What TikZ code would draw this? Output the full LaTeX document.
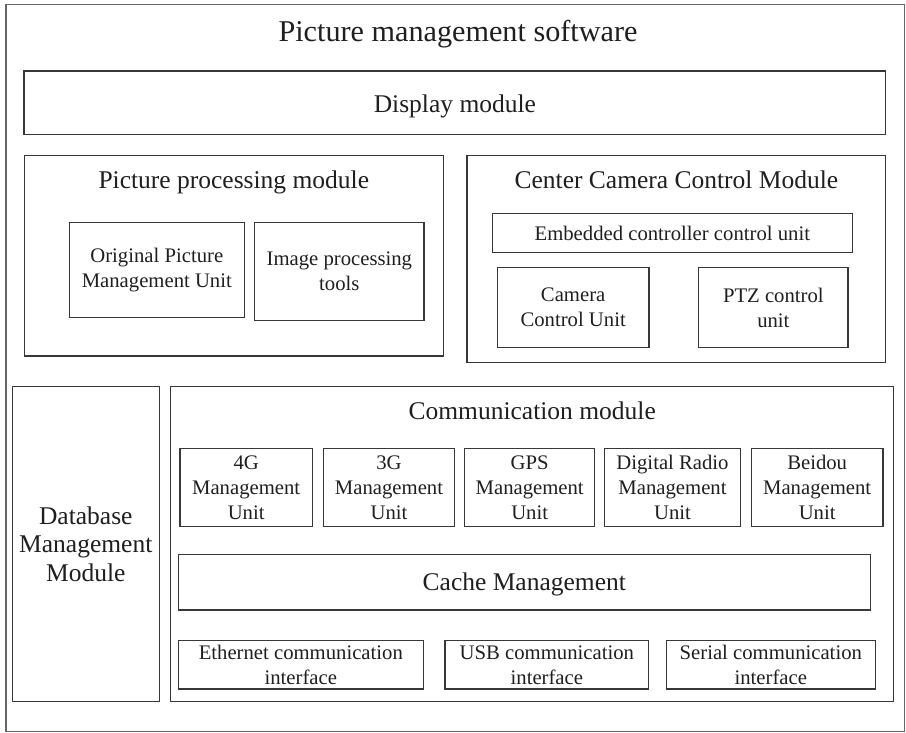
\documentclass[tikz,border=0pt]{standalone}
\usepackage{fontspec}
\setmainfont{Liberation Serif}
\tikzset{
  frame/.style={draw=black!60, line width=1.3pt},
  box/.style={draw=black!78, line width=1.2pt, rectangle, inner sep=0pt,
    outer sep=0pt, align=center, text=black!88},
  unitfont/.style={font=\fontsize{20.7}{25}\selectfont},
  modfont/.style={font=\fontsize{25.5}{28.3}\selectfont},
  titlefont/.style={font=\fontsize{30.2}{34}\selectfont},
  lbl/.style={inner sep=0pt, outer sep=0pt, anchor=base, text=black!88},
}
% \rbox[style]{name}{x1}{y1}{x2}{y2}{text}: box spanning two corners
\newcommand\rbox[7][]{%
  \node[box,#1,minimum width={#5-#3},minimum height={#6-#4}]
    (#2) at ({(#3+#5)/2},{(#4+#6)/2}) {#7};}
\begin{document}
\begin{tikzpicture}[x=1pt,y=-1pt]
  \useasboundingbox (0,0) rectangle (906,733);

  % outer frame
  \rbox[frame]{software}{6}{4.5}{904.5}{731.5}{}
  \node[lbl,titlefont] (softwarelbl) at (458,42) {Picture management software};

  % display module
  \rbox[modfont]{display}{24}{71}{885.7}{134.7}{}
  \node[lbl,modfont] (displaylbl) at (454.9,113) {Display module};

  % picture processing module
  \rbox{ppm}{24.3}{155.7}{443.3}{356}{}
  \node[lbl,modfont] (ppmlbl) at (233.8,189) {Picture processing module};
  \rbox[unitfont]{opmu}{69.3}{222.7}{244.3}{317.3}{Original Picture\\Management Unit}
  \rbox[unitfont]{ipt}{254.7}{222.7}{424}{320.7}{Image processing\\tools}

  % center camera control module
  \rbox{ccm}{467}{155.7}{885.7}{362.3}{}
  \node[lbl,modfont] (ccmlbl) at (676.4,189) {Center Camera Control Module};
  \rbox[unitfont]{ecu}{492.3}{213.3}{852.3}{252.7}{Embedded controller control unit}
  \rbox[unitfont]{ccu}{497.3}{267.7}{649}{347.3}{Camera\\Control Unit}
  \rbox[unitfont]{ptz}{698.7}{267.7}{848}{347.3}{PTZ control\\unit}

  % database management module
  \rbox[modfont]{db}{12.3}{386.7}{159.3}{701.7}{Database\\Management\\Module}

  % communication module
  \rbox{comm}{170.7}{386.7}{893.7}{701.7}{}
  \node[lbl,modfont] (commlbl) at (532.2,419) {Communication module};
  \rbox[unitfont]{g4}{180}{448.3}{312.3}{526.7}{4G\\Management\\Unit}
  \rbox[unitfont]{g3}{323.3}{448.3}{454.7}{526.7}{3G\\Management\\Unit}
  \rbox[unitfont]{gps}{464.7}{448.3}{594.7}{526.7}{GPS\\Management\\Unit}
  \rbox[unitfont]{dr}{604.7}{448.3}{740.3}{526.7}{Digital Radio\\Management\\Unit}
  \rbox[unitfont]{bd}{751.3}{448.3}{883}{526.7}{Beidou\\Management\\Unit}
  \rbox{cache}{178.3}{554.3}{870.3}{610}{}
  \node[lbl,modfont] (cachelbl) at (524.3,590) {Cache Management};
  \rbox[unitfont]{eth}{178.3}{640.7}{423.3}{689}{Ethernet communication\\interface}
  \rbox[unitfont]{usb}{445}{640.7}{648.7}{689}{USB communication\\interface}
  \rbox[unitfont]{ser}{666.3}{640.7}{875.3}{689}{Serial communication\\interface}
\end{tikzpicture}
\end{document}
